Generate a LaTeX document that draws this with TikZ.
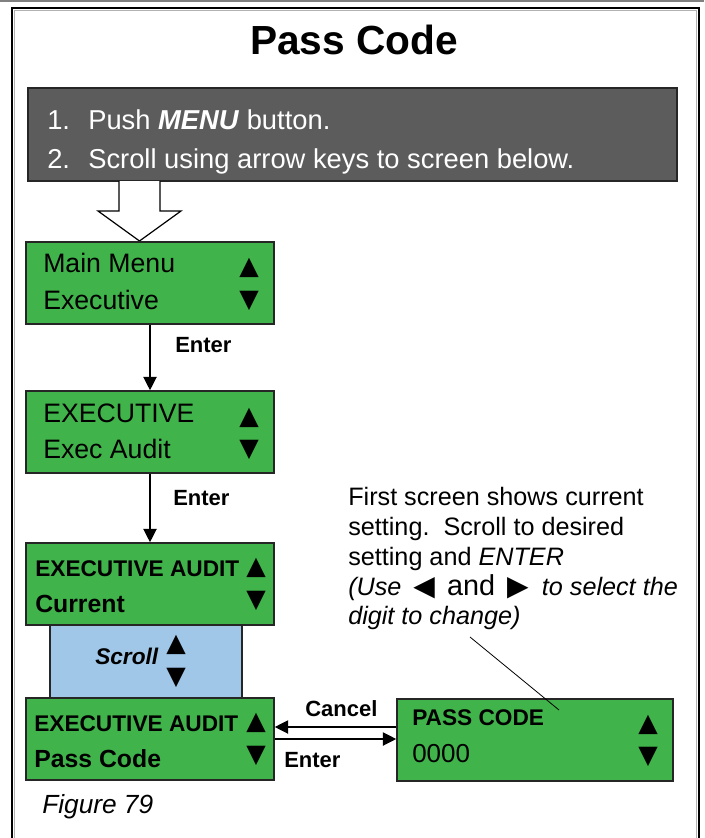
\documentclass[tikz,border=0pt]{standalone}
\usepackage{fontspec}
\setmainfont{Liberation Sans}
\newfontfamily\symfont{DejaVu Sans}
\usetikzlibrary{arrows.meta,fit}
\definecolor{lcdgreen}{RGB}{64,180,74}
\definecolor{scrollblue}{RGB}{160,199,232}
\definecolor{instrgray}{RGB}{92,92,92}
\begin{document}
\begin{tikzpicture}[x=0.75pt,y=-0.75pt,
  lcd/.style={draw=black!85, line width=1.2pt, fill=lcdgreen, inner sep=0pt},
  txt/.style={anchor=base west, inner sep=0pt, font=\fontsize{20}{24}\selectfont},
  btxt/.style={anchor=base west, inner sep=0pt, font=\fontsize{17}{20}\selectfont\bfseries},
  bbtxt/.style={anchor=base west, inner sep=0pt, font=\fontsize{18.6}{22}\selectfont\bfseries},
  itxt/.style={anchor=base west, inner sep=0pt, text=white, font=\fontsize{20.5}{24}\selectfont},
  atxt/.style={anchor=base west, inner sep=0pt, font=\fontsize{18.9}{22}\selectfont},
  tri/.style={inner sep=0pt, anchor=center, font=\symfont\fontsize{19}{20}\selectfont},
  lbl/.style={anchor=base west, inner sep=0pt, font=\fontsize{16.5}{20}\selectfont\bfseries},
  flow/.style={draw, line width=0.9pt, -{Triangle[length=10pt,width=10pt]}},
]
\useasboundingbox (0,0) rectangle (704,838);
% page line and frame
\draw[gray, line width=1.5pt] (0,1) -- (704,1);
\draw[gray!60, line width=0.8pt] (14.5,838) -- (14.5,10.5) -- (696.5,10.5) -- (696.5,838);
\draw[line width=1.3pt] (12,838) -- (12,8) -- (699,8) -- (699,838);

% title
\node[anchor=base, inner sep=0pt, font=\fontsize{30.5}{36}\selectfont\bfseries] (title) at (354,55) {Pass Code};

% instruction box
\node (instr) [fill=instrgray, draw=black!85, line width=0.8pt, inner sep=0pt, fit={(28,88)(677,181)}] {};
\node[itxt] (i1n) at (47,130) {1.};
\node[itxt] (i1) at (88,130) {Push \textbf{\textit{MENU}} button.};
\node[itxt] (i2n) at (47,169) {2.};
\node[itxt] (i2) at (88,169) {Scroll using arrow keys to screen below.};

% hollow block arrow
\draw[fill=white, line width=0.9pt] (119,181) -- (119,211) -- (98,211) -- (139.5,241) -- (181,211) -- (160,211) -- (160,181);

% screens
\node (b1) [lcd, fit={(26,242)(274,324)}] {};
\node[txt] (b1a) at (43,272) {Main Menu};
\node[txt] (b1b) at (43,309) {Executive};
\node[tri] (b1u) at (249,268) {▲};
\node[tri] (b1d) at (249,301) {▼};

\node (b2) [lcd, fit={(26,391)(274,473)}] {};
\node[txt] (b2a) at (43,422) {EXECUTIVE};
\node[txt] (b2b) at (43,458) {Exec Audit};
\node[tri] (b2u) at (249,418) {▲};
\node[tri] (b2d) at (249,450) {▼};

\node (sc) [fill=scrollblue, draw=black!85, line width=0.8pt, inner sep=0pt, fit={(50,625)(242,698)}] {};
\node[anchor=base west, inner sep=0pt, font=\fontsize{17}{20}\selectfont\bfseries\itshape] (sct) at (95,664) {Scroll};
\node[tri] (scu) at (176,645) {▲};
\node[tri] (scd) at (176,678) {▼};

\node (b3) [lcd, fit={(26,543)(274,625)}] {};
\node[btxt] (b3a) at (35,576) {EXECUTIVE AUDIT};
\node[bbtxt] (b3b) at (35,612) {Current};
\node[tri] (b3u) at (256,568) {▲};
\node[tri] (b3d) at (256,601) {▼};

\node (b4) [lcd, fit={(26,698)(274,780)}] {};
\node[btxt] (b4a) at (34,731) {EXECUTIVE AUDIT};
\node[bbtxt] (b4b) at (34,767) {Pass Code};
\node[tri] (b4u) at (256,723) {▲};
\node[tri] (b4d) at (256,756) {▼};

\node (b5) [lcd, fit={(397,699)(673,781)}] {};
\node[btxt] (b5a) at (412,725) {PASS CODE};
\node[anchor=base west, inner sep=0pt, font=\fontsize{19.5}{22}\selectfont] (b5b) at (412,762) {0000};
\node[tri] (b5u) at (648,725) {▲};
\node[tri] (b5d) at (648,757) {▼};

% connectors
\draw[flow] (b1.south) -- (b2.north);
\node[lbl] (e1) at (175,352.5) {Enter};
\draw[flow] (b2.south) -- (b3.north);
\node[lbl] (e2) at (173,505) {Enter};

\coordinate (c5) at ([yshift=9.75pt]b5.west);
\draw[flow] (c5) -- (c5 -| b4.east);
\node[lbl] (cl) at (305,716) {Cancel};
\draw[flow] (b4.east) -- (b4.east -| b5.west);
\node[lbl] (e3) at (284,767) {Enter};

% annotation
\node[atxt] (n1) at (348,505) {First screen shows current};
\node[atxt] (n2) at (348,535) {setting.\ \ Scroll to desired};
\node[atxt] (n3) at (348,565) {setting and \textit{ENTER}};
\node[atxt] (n4) at (348,595) {\textit{(Use}\hspace{9pt}{\symfont\fontsize{21}{22}\selectfont ◀}\hspace{9pt}{\fontsize{21.6}{24}\selectfont and}\hspace{9pt}{\symfont\fontsize{21}{22}\selectfont ▶}\hspace{10pt}\textit{to select the}};
\node[atxt] (n5) at (348,624) {\textit{digit to change)}};
\coordinate (lp) at (559,710);
\draw[line width=0.6pt] (470,637) -- (lp);

% caption
\node[anchor=base west, inner sep=0pt, font=\fontsize{19.7}{22}\selectfont\itshape] (fig) at (42,813) {Figure 79};
\end{tikzpicture}
\end{document}
